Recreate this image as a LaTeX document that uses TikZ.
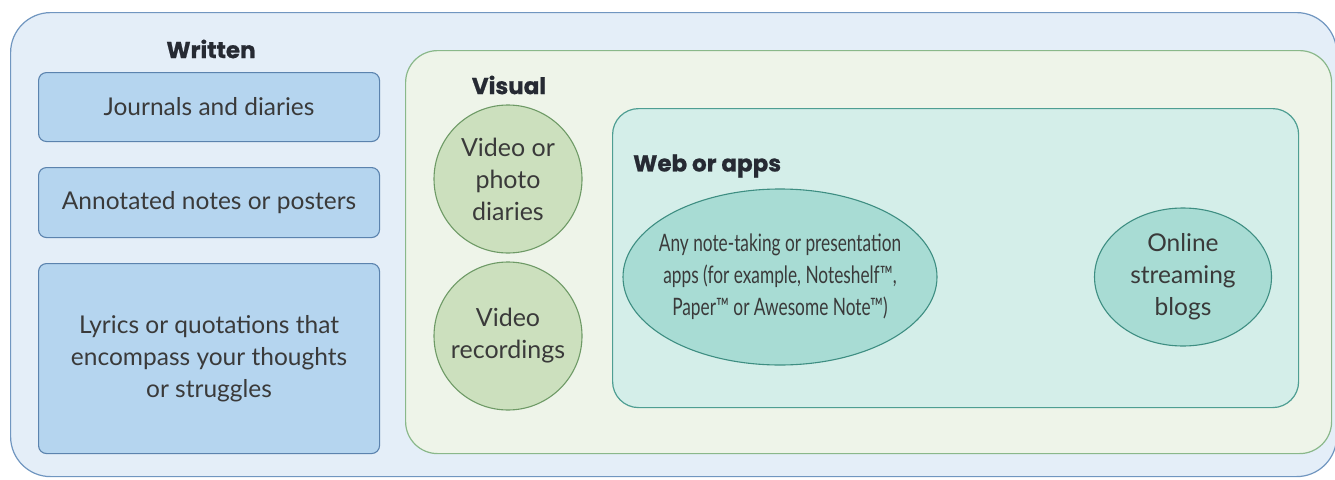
\documentclass[tikz,border=0pt]{standalone}
\usepackage{fontspec}
\setmainfont{Lato}
\newfontfamily\condfont[FakeStretch=0.72]{Lato}
\newfontfamily\headfont[FakeBold=0.8]{Poppins}
\usetikzlibrary{shapes.geometric}
\definecolor{outerfill}{HTML}{E4EEF8}
\definecolor{outerdraw}{HTML}{7096C0}
\definecolor{wboxfill}{HTML}{B5D5EF}
\definecolor{wboxdraw}{HTML}{5B83AE}
\definecolor{greenfill}{HTML}{EEF4E9}
\definecolor{greendraw}{HTML}{8AB88A}
\definecolor{circfill}{HTML}{CCE0BE}
\definecolor{circdraw}{HTML}{6E9A66}
\definecolor{tealfill}{HTML}{D4EEE9}
\definecolor{tealdraw}{HTML}{4E9E92}
\definecolor{ellfill}{HTML}{A8DCD4}
\definecolor{elldraw}{HTML}{3E8E82}
\definecolor{txt}{HTML}{3A3A3A}
\definecolor{head}{HTML}{262A33}
\tikzset{
  container/.style={rectangle, anchor=north west, inner sep=0pt, line width=1.2pt},
  wbox/.style={rectangle, rounded corners=8pt, draw=wboxdraw, fill=wboxfill, line width=1.1pt,
    anchor=north west, minimum width=341pt, inner sep=0pt, align=center, text=txt,
    font=\fontsize{24.5}{32}\selectfont},
  vcirc/.style={circle, draw=circdraw, fill=circfill, line width=1.1pt, minimum size=148pt,
    inner sep=0pt, align=center, text=txt, font=\fontsize{25}{32}\selectfont},
  vell/.style={ellipse, draw=elldraw, fill=ellfill, line width=1.1pt, inner sep=0pt},
  elltext/.style={align=center, text=txt, inner sep=0pt},
  heading/.style={text=head, font=\headfont\fontsize{23}{27}\selectfont\bfseries, inner sep=0pt}
}
\begin{document}
\begin{tikzpicture}[x=1pt,y=-1pt]
\useasboundingbox (0,0) rectangle (1335,479);
% outer container
\node[container, rounded corners=40pt, draw=outerdraw, fill=outerfill,
  minimum width=1326pt, minimum height=464pt] (outer) at (10,12) {};
% Written column
\node[heading] (written) at (211,49) {Written};
\node[wbox, minimum height=69pt] (journals) at (38,72) {Journals and diaries};
\node[wbox, minimum height=70pt] (annotated) at (38,167) {Annotated notes or posters};
\node[wbox, minimum height=190pt] (lyrics) at (38,263) {Lyrics or quotations that\\encompass your thoughts\\or struggles};
% Visual container
\node[container, rounded corners=32pt, draw=greendraw, fill=greenfill,
  minimum width=926pt, minimum height=403pt] (visualbox) at (405,50) {};
\node[heading] (visual) at (509,85) {Visual};
\node[vcirc] (photo) at (508,179) {Video or\\photo\\diaries};
\node[vcirc] (recordings) at (508,336) {Video\\recordings};
% Web or apps container
\node[container, rounded corners=26pt, draw=tealdraw, fill=tealfill,
  minimum width=686pt, minimum height=299pt] (webbox) at (612,108) {};
\node[heading, anchor=west] (web) at (633,166) {Web or apps};
\node[vell, minimum width=314pt, minimum height=176pt] (apps) at (780,277) {};
\node[elltext, font=\condfont\fontsize{24}{32}\selectfont] (appstext) at (apps.center)
  {Any note-taking or presentation\\apps (for example, Noteshelf™,\\Paper™ or Awesome Note™)};
\node[vell, minimum width=177pt, minimum height=138pt] (online) at (1183,277) {};
\node[elltext, font=\fontsize{24.5}{32}\selectfont] (onlinetext) at (online.center)
  {Online\\streaming\\blogs};
\end{tikzpicture}
\end{document}
